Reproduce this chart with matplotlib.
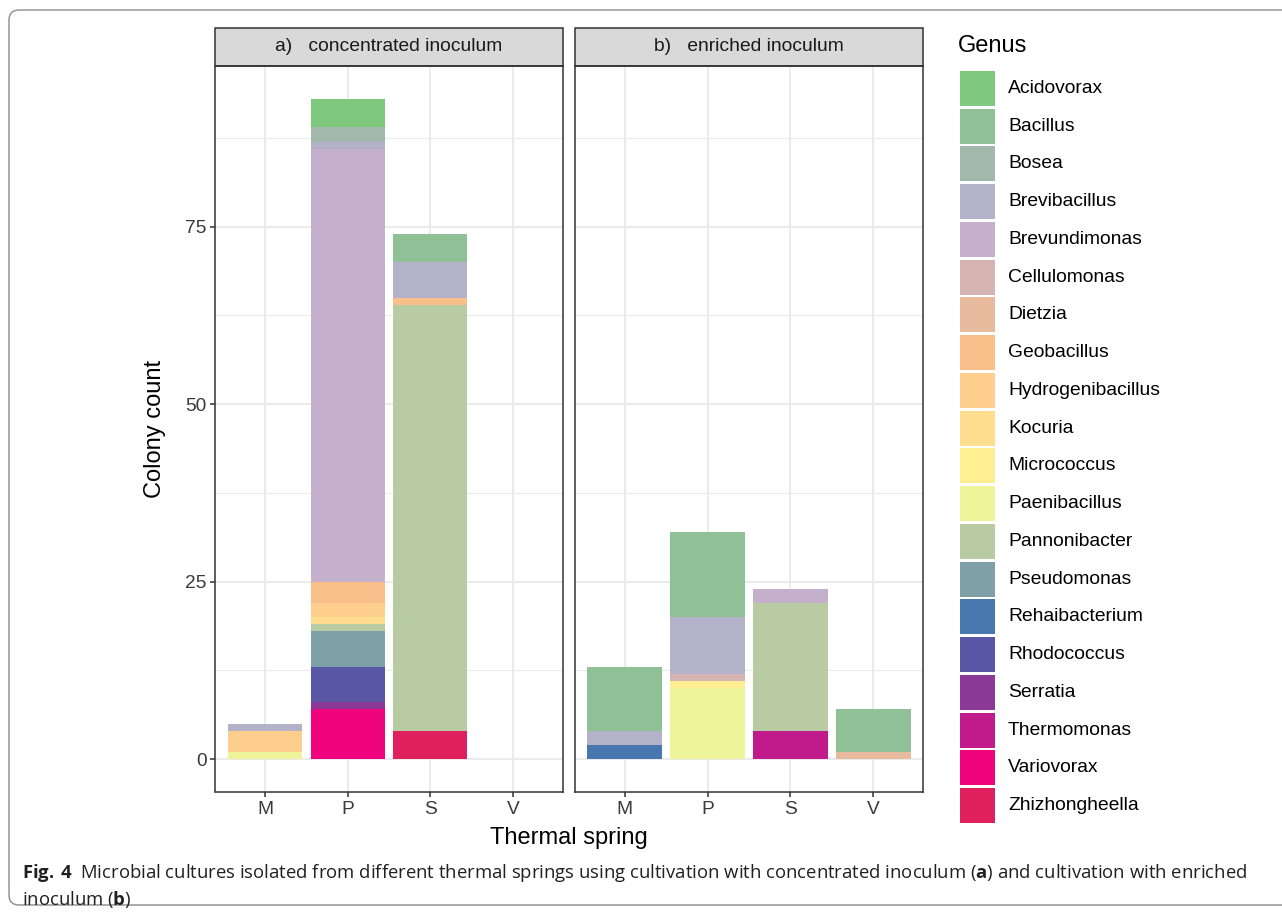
import matplotlib
matplotlib.use("Agg")
import matplotlib.pyplot as plt
from matplotlib.patches import Rectangle, FancyBboxPatch
from matplotlib import font_manager
import numpy as np

genera = ["Acidovorax", "Bacillus", "Bosea", "Brevibacillus", "Brevundimonas",
          "Cellulomonas", "Dietzia", "Geobacillus", "Hydrogenibacillus", "Kocuria",
          "Micrococcus", "Paenibacillus", "Pannonibacter", "Pseudomonas",
          "Rehaibacterium", "Rhodococcus", "Serratia", "Thermomonas", "Variovorax",
          "Zhizhongheella"]
genus_colors = ["#7FC97F", "#90C095", "#A2B8AC", "#B3B2C8", "#C4B0CA",
                "#D6B4B2", "#E8BB9E", "#F9BF8A", "#FECE8D", "#FEDD8F",
                "#FEF092", "#EEF49A", "#B8CBA3", "#80A0A8",
                "#4877AE", "#5A56A6", "#8B3896", "#C11A8A", "#F0047E",
                "#E01F5E"]
springs = ["M", "P", "S", "V"]

# colony counts per spring and genus
concentrated = {
    "M": {"Brevibacillus": 1, "Hydrogenibacillus": 3, "Paenibacillus": 1},
    "P": {"Acidovorax": 4, "Bosea": 2, "Brevibacillus": 1, "Brevundimonas": 61,
          "Geobacillus": 3, "Hydrogenibacillus": 2, "Kocuria": 1, "Pannonibacter": 1,
          "Pseudomonas": 5, "Rhodococcus": 5, "Serratia": 1, "Variovorax": 7},
    "S": {"Bacillus": 4, "Brevibacillus": 5, "Geobacillus": 1, "Pannonibacter": 60,
          "Zhizhongheella": 4},
    "V": {},
}
enriched = {
    "M": {"Bacillus": 9, "Brevibacillus": 2, "Rehaibacterium": 2},
    "P": {"Bacillus": 12, "Brevibacillus": 8, "Cellulomonas": 1, "Micrococcus": 1,
          "Paenibacillus": 10},
    "S": {"Brevundimonas": 2, "Pannonibacter": 18, "Thermomonas": 4},
    "V": {"Bacillus": 6, "Dietzia": 1},
}
panel_titles = ["a)   concentrated inoculum", "b)   enriched inoculum"]

plt.rcParams["font.family"] = ["Liberation Sans", "DejaVu Sans"]

W, H = 1282, 919
fig = plt.figure(figsize=(W / 100, H / 100), dpi=100)

# pixel-space overlay for frame, legend and caption
ov = fig.add_axes([0, 0, 1, 1])
ov.set_xlim(0, W)
ov.set_ylim(H, 0)
ov.axis("off")


def px_axes(left, top, right, bottom):
    return fig.add_axes([left / W, 1 - bottom / H, (right - left) / W, (bottom - top) / H])


axes = [px_axes(215.5, 66, 562.5, 792), px_axes(575, 66, 923, 792)]
dark = "#333333"

for i, (ax, counts, title) in enumerate(zip(axes, [concentrated, enriched], panel_titles)):
    x = np.arange(len(springs))
    base = np.zeros(len(springs))
    for g, c in reversed(list(zip(genera, genus_colors))):
        vals = np.array([counts[s].get(g, 0) for s in springs], dtype=float)
        ax.bar(x, vals, width=0.9, bottom=base, color=c, linewidth=0, zorder=2)
        base += vals
    ax.set_xlim(-0.6, 3.6)
    ax.set_ylim(-4.65, 97.65)
    ax.set_xticks(x)
    ax.set_xticklabels(springs)
    ax.set_yticks([0, 25, 50, 75])
    ax.set_yticks([12.5, 37.5, 62.5, 87.5], minor=True)
    ax.grid(which="major", color="#EBEBEB", lw=1.5, zorder=0)
    ax.grid(which="minor", axis="y", color="#EBEBEB", lw=0.8, zorder=0)
    ax.set_axisbelow(True)
    for sp in ax.spines.values():
        sp.set_color(dark)
        sp.set_linewidth(1.1)
    ax.tick_params(which="major", length=3.5, width=1.1, color=dark,
                   labelsize=13.8, labelcolor="#3A3A3A", pad=3)
    ax.tick_params(which="minor", length=0)
    if i == 1:
        ax.tick_params(axis="y", left=False, labelleft=False)
    # facet strip
    strip_h = 38 / 726
    ax.add_patch(Rectangle((0, 1), 1, strip_h, transform=ax.transAxes, clip_on=False,
                           facecolor="#D9D9D9", edgecolor=dark, lw=1.1))
    ax.text(0.5, 1 + strip_h / 2, title, transform=ax.transAxes, ha="center",
            va="center", fontsize=13.9, color="#1A1A1A")

fig.text(155 / W, 1 - 429 / H, "Colony count", rotation=90, ha="center", va="center",
         fontsize=17, color="black")
fig.text(569 / W, 1 - 838 / H, "Thermal spring", ha="center", va="center",
         fontsize=17, color="black")

# legend
ov.text(958, 46, "Genus", ha="left", va="center", fontsize=17, color="black")
for k, (g, c) in enumerate(zip(genera, genus_colors)):
    top = 71 + k * 37.74
    ov.add_patch(Rectangle((960, top), 35, 35, facecolor=c, edgecolor="none"))
    ov.text(1008, top + 17.5, g, ha="left", va="center", fontsize=13.9, color="black")

# outer frame
ov.add_patch(FancyBboxPatch((9, 10), 1290, 895, boxstyle="round,pad=0,rounding_size=10",
                            facecolor="none", edgecolor="#8C8C8C", lw=1, clip_on=False))

# caption
cap_font = "Open Sans"
for cand in ["Liberation Sans Narrow", "DejaVu Sans Condensed"]:
    try:
        font_manager.findfont(cand, fallback_to_default=False)
        cap_font = cand
        break
    except Exception:
        pass
plt.rcParams["mathtext.fontset"] = "custom"
plt.rcParams["mathtext.rm"] = cap_font
plt.rcParams["mathtext.bf"] = cap_font + ":bold"

line1 = (r"$\mathbf{Fig.\,4}$  Microbial cultures isolated from different thermal springs "
         r"using cultivation with concentrated inoculum ($\mathbf{a}$) and cultivation with enriched")
line2 = r"inoculum ($\mathbf{b}$)"
t1 = ov.text(22, 873, line1, ha="left", va="center", fontsize=12, family=cap_font,
             color="#231F20")
t2 = ov.text(22, 900, line2, ha="left", va="center", fontsize=12, family=cap_font,
             color="#231F20")
r = fig.canvas.get_renderer()
w1 = t1.get_window_extent(renderer=r).width
size = 12 * 1223 / w1
t1.set_fontsize(size)
t2.set_fontsize(size)

fig.savefig("out.png", dpi=100)
